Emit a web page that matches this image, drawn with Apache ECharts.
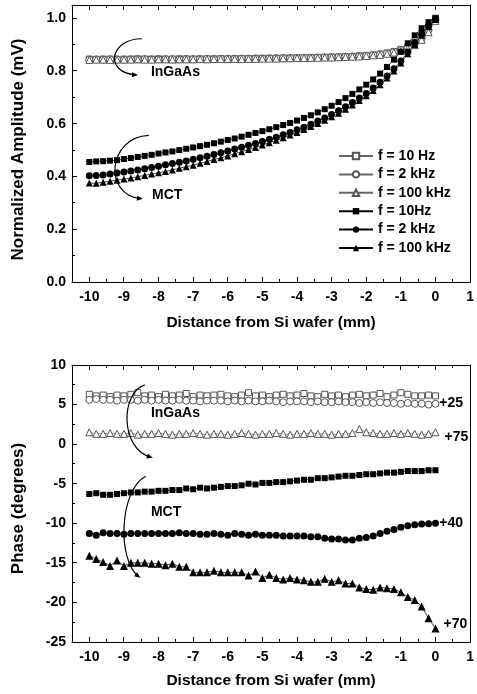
<!DOCTYPE html>
<html><head><meta charset="utf-8">
<script src="https://cdn.jsdelivr.net/npm/echarts@6/dist/echarts.min.js"></script>
<style>html,body{margin:0;padding:0;background:#fff}#main{width:477px;height:694px}</style>
</head><body><div id="main"></div>
<script>
// ---------- data ----------
const xValues = [-10,-9.8,-9.6,-9.4,-9.2,-9,-8.8,-8.6,-8.4,-8.2,
  -8,-7.8,-7.6,-7.4,-7.2,-7,-6.8,-6.6,-6.4,-6.2,
  -6,-5.8,-5.6,-5.4,-5.2,-5,-4.8,-4.6,-4.4,-4.2,
  -4,-3.8,-3.6,-3.4,-3.2,-3,-2.8,-2.6,-2.4,-2.2,
  -2,-1.8,-1.6,-1.4,-1.2,-1,-0.8,-0.6,-0.4,-0.2,
  0];
const xMajorTicks = [-10,-9,-8,-7,-6,-5,-4,-3,-2,-1,0,1];
const xMinorTicks = [-9.5,-8.5,-7.5,-6.5,-5.5,-4.5,-3.5,-2.5,-1.5,-0.5,0.5];
const ampMajorTicks = [0,0.2,0.4,0.6,0.8,1.0];
const ampMinorTicks = [0.1,0.3,0.5,0.7,0.9];
const phMajorTicks = [-25,-20,-15,-10,-5,0,5,10];
const phMinorTicks = [-22.5,-17.5,-12.5,-7.5,-2.5,2.5,7.5];
const legendLabels = ['f = 10 Hz','f = 2 kHz','f = 100 kHz','f = 10Hz','f = 2 kHz','f = 100 kHz'];

const ampOpen10Hz = [0.845,0.844,0.845,0.845,0.844,0.845,0.845,0.846,0.845,0.845,
  0.846,0.845,0.845,0.846,0.846,0.845,0.846,0.846,0.846,0.847,
  0.846,0.847,0.847,0.847,0.848,0.848,0.848,0.849,0.849,0.849,
  0.850,0.850,0.851,0.851,0.852,0.853,0.853,0.854,0.855,0.857,
  0.858,0.861,0.864,0.868,0.874,0.882,0.893,0.908,0.930,0.960,
  1.0];
const ampOpen2kHz = [0.843,0.844,0.843,0.844,0.844,0.843,0.844,0.844,0.845,0.844,
  0.844,0.845,0.845,0.844,0.845,0.845,0.845,0.846,0.845,0.846,
  0.846,0.846,0.847,0.847,0.847,0.847,0.848,0.848,0.849,0.849,
  0.849,0.850,0.850,0.851,0.852,0.852,0.853,0.854,0.855,0.856,
  0.858,0.860,0.863,0.867,0.872,0.879,0.889,0.903,0.924,0.955,
  0.995];
const ampOpen100kHz = [0.842,0.843,0.843,0.842,0.843,0.843,0.843,0.844,0.843,0.843,
  0.844,0.844,0.843,0.844,0.844,0.844,0.845,0.844,0.845,0.845,
  0.845,0.846,0.845,0.846,0.846,0.847,0.847,0.847,0.848,0.848,
  0.849,0.849,0.850,0.850,0.851,0.851,0.852,0.853,0.854,0.855,
  0.857,0.859,0.861,0.865,0.870,0.876,0.885,0.898,0.918,0.947,
  0.990];
const ampMct10Hz = [0.455,0.457,0.458,0.460,0.462,0.466,0.470,0.474,0.478,0.482,
  0.487,0.491,0.495,0.500,0.505,0.510,0.515,0.520,0.526,0.532,
  0.538,0.544,0.551,0.558,0.565,0.572,0.579,0.587,0.595,0.603,
  0.612,0.622,0.632,0.643,0.655,0.668,0.682,0.697,0.713,0.730,
  0.748,0.768,0.790,0.815,0.843,0.873,0.905,0.935,0.962,0.985,
  1.0];
const ampMct2kHz = [0.403,0.404,0.406,0.409,0.413,0.417,0.421,0.425,0.429,0.434,
  0.439,0.444,0.449,0.454,0.459,0.465,0.471,0.477,0.483,0.490,
  0.497,0.504,0.511,0.518,0.525,0.533,0.541,0.549,0.558,0.567,
  0.577,0.587,0.598,0.610,0.622,0.635,0.649,0.664,0.680,0.697,
  0.715,0.735,0.757,0.781,0.808,0.838,0.872,0.907,0.940,0.972,
  0.995];
const ampMct100kHz = [0.375,0.374,0.378,0.382,0.386,0.390,0.394,0.399,0.404,0.409,
  0.414,0.419,0.425,0.431,0.437,0.443,0.450,0.457,0.464,0.471,
  0.478,0.486,0.494,0.502,0.510,0.519,0.528,0.537,0.547,0.557,
  0.567,0.578,0.589,0.601,0.613,0.626,0.640,0.655,0.671,0.688,
  0.706,0.726,0.748,0.773,0.800,0.830,0.865,0.900,0.935,0.968,
  0.995];

const phOpen10Hz = [6.3,6.1,6.2,6.0,6.2,6.1,6.3,6.5,6.1,6.2,
  6.0,6.3,6.1,6.2,6.4,6.0,6.2,6.1,6.2,6.3,
  6.1,6.0,6.2,6.5,6.1,6.2,6.0,6.2,6.3,6.1,
  6.2,6.4,6.1,6.0,6.3,6.1,6.2,6.0,6.2,6.3,
  6.1,6.2,6.4,6.0,6.2,6.5,6.3,6.1,6.1,6.2,
  6.1];
const phOpen2kHz = [5.6,5.7,5.6,5.6,5.5,5.6,5.6,5.5,5.6,5.5,
  5.6,5.5,5.5,5.6,5.5,5.5,5.4,5.5,5.5,5.5,
  5.4,5.5,5.4,5.5,5.4,5.4,5.5,5.4,5.3,5.4,
  5.4,5.4,5.3,5.4,5.3,5.3,5.4,5.3,5.3,5.2,
  5.3,5.2,5.3,5.2,5.2,5.1,5.2,5.1,5.1,5.0,
  5.1];
const phOpen100kHz = [1.5,1.3,1.3,1.4,1.3,1.3,1.4,1.2,1.3,1.3,
  1.4,1.3,1.2,1.3,1.3,1.4,1.3,1.2,1.3,1.3,
  1.2,1.3,1.4,1.3,1.2,1.3,1.3,1.4,1.3,1.2,
  1.3,1.3,1.4,1.3,1.3,1.2,1.3,1.3,1.4,1.9,
  1.5,1.4,1.3,1.3,1.4,1.3,1.4,1.3,1.2,1.3,
  1.5];
const phMct10Hz = [-6.3,-6.2,-6.4,-6.4,-6.3,-6.2,-6.1,-6.1,-6.0,-6.0,
  -5.9,-5.9,-5.8,-5.8,-5.6,-5.7,-5.5,-5.6,-5.5,-5.4,
  -5.3,-5.3,-5.2,-5.0,-5.1,-4.9,-4.9,-4.8,-4.8,-4.7,
  -4.6,-4.5,-4.5,-4.3,-4.3,-4.2,-4.1,-4.0,-4.0,-3.9,
  -3.8,-3.8,-3.7,-3.6,-3.6,-3.5,-3.4,-3.4,-3.4,-3.3,
  -3.3];
const phMct2kHz = [-11.3,-11.5,-11.2,-11.3,-11.3,-11.4,-11.3,-11.3,-11.3,-11.3,
  -11.3,-11.3,-11.3,-11.2,-11.3,-11.3,-11.4,-11.4,-11.3,-11.4,
  -11.5,-11.3,-11.4,-11.5,-11.4,-11.5,-11.5,-11.5,-11.6,-11.6,
  -11.6,-11.6,-11.7,-11.7,-11.9,-12.0,-12.0,-12.1,-12.1,-11.9,
  -11.8,-11.6,-11.3,-11.0,-10.8,-10.5,-10.3,-10.2,-10.1,-10.05,
  -10.0];
const phMct100kHz = [-14.1,-14.5,-14.9,-15.4,-14.7,-15.4,-15.0,-15.0,-15.0,-15.1,
  -15.1,-15.3,-15.1,-15.5,-15.5,-16.2,-16.2,-16.2,-16.0,-16.2,
  -16.2,-16.2,-16.2,-16.6,-16.1,-16.9,-16.5,-16.9,-17.1,-16.9,
  -17.1,-17.2,-17.4,-17.4,-17.0,-17.4,-17.2,-17.6,-17.6,-18.1,
  -18.3,-18.4,-18.1,-18.2,-18.3,-18.7,-19.3,-19.7,-20.5,-22.0,
  -23.3];

// ---------- chart ----------
const FONT = '"Liberation Sans", Arial, sans-serif';
const chart = echarts.init(document.getElementById('main'), null, {renderer: 'canvas'});
const pairs = v => xValues.map((x, i) => [x, v[i]]);
const LINE = () => ({show: true, onZero: false, lineStyle: {color: '#000', width: 1}});
const LBL = {color: '#000', fontSize: 14, fontWeight: 'bold', fontFamily: FONT};
const isMult = (v, s) => Math.abs(v / s - Math.round(v / s)) < 1e-6;
const X_MIN = -10.5, X_MAX = 1;
const Y_RANGE = [[0, 1.05], [-25, 10]];

// Label axis for distance: mirrored value (-distance) on an inverse axis, so the
// tick count starts from an integer (min = -1) while the span equals -10.5..1.
function xAxes(g, name, gap) {
  return [
    {gridIndex: g, type: 'value', min: X_MIN, max: X_MAX, show: false, axisLine: {onZero: false}},
    {gridIndex: g, type: 'value', inverse: true, min: -X_MAX, max: -X_MIN, interval: 1, position: 'bottom',
      splitLine: {show: false}, axisLine: LINE(), axisTick: {show: false},
      axisLabel: Object.assign({show: true, margin: 8, formatter: u => isMult(u, 1) ? String(-u === 0 ? 0 : -u) : ''}, LBL),
      name: name, nameLocation: 'middle', nameGap: gap,
      nameTextStyle: {color: '#000', fontSize: 15.5, fontWeight: 'bold', fontFamily: FONT}},
    {gridIndex: g, type: 'value', min: X_MIN, max: X_MAX, position: 'top',
      splitLine: {show: false}, axisLine: LINE(), axisTick: {show: false}, axisLabel: {show: false}}
  ];
}
function yAxes(g, major, fmt, name, shift) {
  const [min, max] = Y_RANGE[g];
  return [
    {gridIndex: g, type: 'value', min: min, max: max, interval: major, position: 'left',
      splitLine: {show: false}, axisLine: LINE(), axisTick: {show: false},
      axisLabel: Object.assign({show: true, margin: 6, formatter: v => isMult(v, major) ? fmt(v) : ''}, LBL),
      name: name, nameLocation: 'middle', nameGap: 45,
      nameTextStyle: {color: '#000', fontSize: 17, fontWeight: 'bold', fontFamily: FONT, padding: [0, shift, 0, 0]}},
    {gridIndex: g, type: 'value', min: min, max: max, position: 'right',
      splitLine: {show: false}, axisLine: LINE(), axisTick: {show: false}, axisLabel: {show: false}}
  ];
}

function ser(name, data, symbol, size, filled, g) {
  return {
    name: name, type: 'line', xAxisIndex: g * 3, yAxisIndex: g * 2, data: pairs(data),
    symbol: symbol, symbolSize: size, showAllSymbol: true, animation: false,
    lineStyle: {color: filled ? '#000' : '#666', width: 0.7},
    itemStyle: filled ? {color: '#000', borderColor: '#000', borderWidth: 0}
                      : {color: '#fff', borderColor: '#555', borderWidth: 1},
    emphasis: {disabled: true}
  };
}

const legendNames = ['A1','A2','A3','A4','A5','A6'];
const option = {
  backgroundColor: '#fff',
  animation: false,
  grid: [
    {left: 72, top: 5, width: 401, height: 277, show: false},
    {left: 72, top: 365, width: 401, height: 277, show: false}
  ],
  xAxis: xAxes(0, 'Distance from Si wafer (mm)', 33).concat(xAxes(1, 'Distance from Si wafer (mm)', 31)),
  yAxis: yAxes(0, 0.2, v => v.toFixed(1), 'Normalized Amplitude (mV)', 12)
    .concat(yAxes(1, 5, v => String(v), 'Phase (degrees)', 10)),
  legend: {
    data: legendNames, orient: 'vertical', left: 333, top: 143,
    itemWidth: 34, itemHeight: 8, itemGap: 2.4,
    formatter: n => legendLabels[legendNames.indexOf(n)],
    textStyle: {color: '#000', fontSize: 14, fontWeight: 'bold', fontFamily: FONT, lineHeight: 16},
    selectedMode: false
  },
  series: [
    ser('A1', ampOpen10Hz, 'rect', 6, false, 0),
    ser('A2', ampOpen2kHz, 'circle', 7, false, 0),
    ser('A3', ampOpen100kHz, 'triangle', 7, false, 0),
    ser('A4', ampMct10Hz, 'rect', 6, true, 0),
    ser('A5', ampMct2kHz, 'circle', 7, true, 0),
    ser('A6', ampMct100kHz, 'triangle', 7, true, 0),
    ser('B1', phOpen10Hz, 'rect', 6, false, 1),
    ser('B2', phOpen2kHz, 'circle', 7, false, 1),
    ser('B3', phOpen100kHz, 'triangle', 7, false, 1),
    ser('B4', phMct10Hz, 'rect', 6, true, 1),
    ser('B5', phMct2kHz, 'circle', 7, true, 1),
    ser('B6', phMct100kHz, 'triangle', 8, true, 1)
  ]
};
chart.setOption(option);

const px = (g, p) => chart.convertToPixel({xAxisIndex: g * 3, yAxisIndex: g * 2}, p);
const graphics = [];
const seg = (x1, y1, x2, y2) => graphics.push({type: 'line', silent: true, z: 40,
  shape: {x1: x1, y1: y1, x2: x2, y2: y2}, style: {stroke: '#000', lineWidth: 1}});
const crisp = v => Math.round(v - 0.5) + 0.5;

// ---------- inward tick marks, placed through the axis scales ----------
const yTicks = [[ampMajorTicks, ampMinorTicks], [phMajorTicks, phMinorTicks]];
[0, 1].forEach(g => {
  const [yMin, yMax] = Y_RANGE[g];
  [[xMajorTicks, 5], [xMinorTicks, 3]].forEach(([vals, len]) => vals.forEach(v => {
    const b = px(g, [v, yMin]), t = px(g, [v, yMax]);
    const x = crisp(b[0]);
    seg(x, b[1], x, b[1] - len);
    seg(x, t[1], x, t[1] + len);
  }));
  [[yTicks[g][0], 5], [yTicks[g][1], 3]].forEach(([vals, len]) => vals.forEach(v => {
    const l = px(g, [X_MIN, v]);
    const y = crisp(l[1]);
    seg(l[0], y, l[0] + len, y);
  }));
});

// ---------- annotations (data coordinates) ----------
const arcs = [
  {g: 0, pts: [[-8.48, 0.922], [-9.43, 0.922], [-9.57, 0.792], [-8.65, 0.785]]},
  {g: 0, pts: [[-8.28, 0.556], [-9.48, 0.549], [-9.60, 0.328], [-8.51, 0.316]]},
  {g: 1, pts: [[-8.40, 7.48], [-9.11, 6.47], [-9.11, -0.63], [-8.22, -1.65]]},
  {g: 1, pts: [[-8.37, -4.06], [-9.14, -5.83], [-9.20, -14.71], [-8.57, -16.74]]}
];
const notes = [
  {g: 0, at: [-8.22, 0.796], text: 'InGaAs'},
  {g: 0, at: [-8.19, 0.331], text: 'MCT'},
  {g: 1, at: [-8.22, 3.93], text: 'InGaAs'},
  {g: 1, at: [-8.22, -8.62], text: 'MCT'},
  {g: 1, at: [0.11, 5.2], text: '+25'},
  {g: 1, at: [0.26, 0.89], text: '+75'},
  {g: 1, at: [0.11, -10.02], text: '+40'},
  {g: 1, at: [0.23, -22.7], text: '+70'}
];
arcs.forEach(a => {
  const p = a.pts.map(q => px(a.g, q));
  graphics.push({type: 'bezierCurve', silent: true, z: 50,
    shape: {x1: p[0][0], y1: p[0][1], cpx1: p[1][0], cpy1: p[1][1], cpx2: p[2][0], cpy2: p[2][1], x2: p[3][0], y2: p[3][1]},
    style: {stroke: '#000', lineWidth: 1.2, fill: null}});
  let dx = p[3][0] - p[2][0], dy = p[3][1] - p[2][1];
  const L = Math.hypot(dx, dy); dx /= L; dy /= L;
  const tip = [p[3][0] + dx * 2, p[3][1] + dy * 2];
  const bx = tip[0] - dx * 6, by = tip[1] - dy * 6;
  graphics.push({type: 'polygon', silent: true, z: 50,
    shape: {points: [tip, [bx - dy * 2.5, by + dx * 2.5], [bx + dy * 2.5, by - dx * 2.5]]},
    style: {fill: '#000'}});
});
notes.forEach(n => {
  const p = px(n.g, n.at);
  graphics.push({type: 'text', silent: true, z: 50, x: p[0], y: p[1],
    style: {text: n.text, fill: '#000', font: 'bold 14px ' + FONT, textVerticalAlign: 'middle', verticalAlign: 'middle'}});
});
chart.setOption({graphic: graphics});
</script></body></html>
